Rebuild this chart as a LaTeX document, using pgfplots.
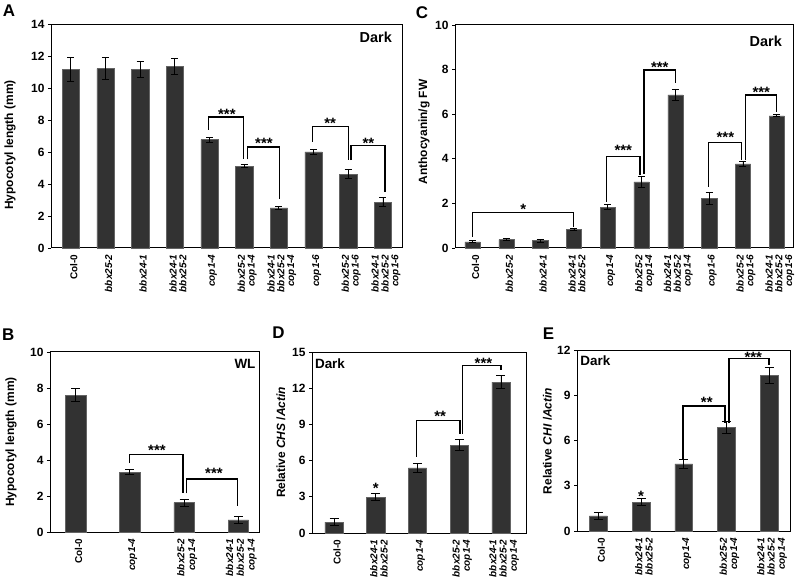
\documentclass[border=0pt]{standalone}
\usepackage{pgfplots}
\pgfplotsset{compat=1.18}
\usepackage{fontspec}
\setmainfont{Liberation Sans}
\definecolor{barc}{RGB}{50,50,50}
\definecolor{bare}{RGB}{100,100,100}
\pgfplotsset{
  panel/.style={
    scale only axis, anchor=south west, clip=false,
    axis line style={line width=1pt},
    ymin=0, tick align=outside, ytick pos=left, xtick pos=bottom,
    major tick length=3bp, tick style={black, line width=0.8pt},
    xtick style={draw=none},
    /pgf/number format/assume math mode=true,
    yticklabel style={font=\bfseries\fontsize{12}{12}\selectfont},
    xticklabel style={rotate=90, anchor=east, align=right, yshift=-3bp,
      font=\bfseries\fontsize{10}{9.8}\selectfont},
  },
  bars/.style={ybar, bar width=#1, fill=barc, draw=bare, line width=0.5pt,
    error bars/y dir=both, error bars/y explicit,
    error bars/error bar style={line width=0.8pt, black},
    error bars/error mark options={rotate=90, mark size=3.5bp, line width=0.8pt, black}},
  brk/.style={black, line width=1.3pt, sharp plot, mark=none},
}
\newcommand{\sig}[3]{\node[font=\bfseries\fontsize{15}{15}\selectfont, anchor=base, inner sep=0pt] at (axis cs:#1,#2) {#3};}
\begin{document}
\begin{tikzpicture}
\path[use as bounding box] (0,0) rectangle (796bp,583bp);
% ---------------- A
\begin{axis}[panel, at={(51bp,335bp)}, width=351bp, height=223.5bp,
  xmin=-0.57, xmax=9.55, ymax=14, ytick={0,2,...,14}, xtick={0,...,9},
  xticklabels={Col-0, \textit{bbx25-2}, \textit{bbx24-1}, {\textit{bbx24-1}\\\textit{bbx25-2}}, \textit{cop1-4}, {\textit{bbx25-2}\\\textit{cop1-4}}, {\textit{bbx24-1}\\\textit{bbx25-2}\\\textit{cop1-4}}, \textit{cop1-6}, {\textit{bbx25-2}\\\textit{cop1-6}}, {\textit{bbx24-1}\\\textit{bbx25-2}\\\textit{cop1-6}}}]
\addplot[bars=0.5] coordinates {(0,11.19)+-(0,0.73) (1,11.23)+-(0,0.69) (2,11.19)+-(0,0.52) (3,11.38)+-(0,0.52) (4,6.79)+-(0,0.15) (5,5.12)+-(0,0.1) (6,2.52)+-(0,0.1) (7,6.02)+-(0,0.15) (8,4.63)+-(0,0.29) (9,2.87)+-(0,0.29)};
\addplot[brk] coordinates {(3.98,7.4) (3.98,8.2) (4.99,8.2) (4.99,5.55)};
\addplot[brk] coordinates {(5.09,5.55) (5.09,6.33) (6.01,6.33) (6.01,3.1)};
\addplot[brk] coordinates {(6.96,6.65) (6.96,7.62) (8.0,7.62) (8.0,5.5)};
\addplot[brk] coordinates {(8.08,5.5) (8.08,6.4) (9.06,6.4) (9.06,3.52)};
\sig{4.5}{8.04}{***}
\sig{5.57}{6.21}{***}
\sig{7.48}{7.5}{**}
\sig{8.58}{6.25}{**}
\end{axis}
% ---------------- C
\begin{axis}[panel, at={(455bp,335bp)}, width=338bp, height=223bp,
  xmin=-0.52, xmax=9.48, ymax=10, ytick={0,2,...,10}, xtick={0,...,9},
  xticklabels={Col-0, \textit{bbx25-2}, \textit{bbx24-1}, {\textit{bbx24-1}\\\textit{bbx25-2}}, \textit{cop1-4}, {\textit{bbx25-2}\\\textit{cop1-4}}, {\textit{bbx24-1}\\\textit{bbx25-2}\\\textit{cop1-4}}, \textit{cop1-6}, {\textit{bbx25-2}\\\textit{cop1-6}}, {\textit{bbx24-1}\\\textit{bbx25-2}\\\textit{cop1-6}}}]
\addplot[bars=0.45] coordinates {(0,0.28)+-(0,0.04) (1,0.38)+-(0,0.05) (2,0.33)+-(0,0.06) (3,0.82)+-(0,0.04) (4,1.83)+-(0,0.11) (5,2.97)+-(0,0.24) (6,6.87)+-(0,0.26) (7,2.23)+-(0,0.26) (8,3.77)+-(0,0.1) (9,5.93)+-(0,0.04)};
\addplot[brk] coordinates {(0,0.5) (0,1.58) (2.98,1.58) (2.98,0.96)};
\addplot[brk] coordinates {(3.97,2.08) (3.97,4.09) (4.95,4.09) (4.95,3.27)};
\addplot[brk] coordinates {(5.07,3.32) (5.07,7.98) (6.01,7.98) (6.01,7.38)};
\addplot[brk] coordinates {(6.99,2.75) (6.99,4.74) (7.96,4.74) (7.96,3.95)};
\addplot[brk] coordinates {(8.07,3.95) (8.07,6.86) (9.0,6.86) (9.0,6.11)};
\sig{1.5}{1.51}{*}
\sig{4.46}{4.13}{***}
\sig{5.54}{7.86}{***}
\sig{7.48}{4.75}{***}
\sig{8.54}{6.77}{***}
\end{axis}
% ---------------- B
\begin{axis}[panel, at={(50bp,51bp)}, width=209bp, height=180bp,
  xmin=-0.47, xmax=3.38, ymax=10, ytick={0,2,...,10}, xtick={0,...,3},
  xticklabels={Col-0, \textit{cop1-4}, {\textit{bbx25-2}\\\textit{cop1-4}}, {\textit{bbx24-1}\\\textit{bbx25-2}\\\textit{cop1-4}}},
  xticklabel style={font=\bfseries\fontsize{10}{10.8}\selectfont}]
\addplot[bars=0.38, error bars/error mark options={rotate=90, mark size=4.5bp, line width=0.8pt, black}] coordinates {(0,7.6)+-(0,0.37) (1,3.32)+-(0,0.14) (2,1.63)+-(0,0.2) (3,0.67)+-(0,0.18)};
\addplot[brk] coordinates {(0.99,3.82) (0.99,4.32) (1.98,4.32) (1.98,2.15)};
\addplot[brk] coordinates {(2.05,2.15) (2.05,2.94) (2.99,2.94) (2.99,1.45)};
\sig{1.5}{4.26}{***}
\sig{2.55}{2.96}{***}
\end{axis}
% ---------------- D
\begin{axis}[panel, at={(312bp,50bp)}, width=214bp, height=181bp,
  xmin=-0.53, xmax=4.6, ymax=15, ytick={0,3,...,15}, xtick={0,...,4},
  xticklabels={Col-0, {\textit{bbx24-1}\\\textit{bbx25-2}}, \textit{cop1-4}, {\textit{bbx25-2}\\\textit{cop1-4}}, {\textit{bbx24-1}\\\textit{bbx25-2}\\\textit{cop1-4}}},
  xticklabel style={font=\bfseries\fontsize{10}{10.3}\selectfont}]
\addplot[bars=0.44, error bars/error mark options={rotate=90, mark size=4.5bp, line width=0.8pt, black}] coordinates {(0,0.91)+-(0,0.3) (1,2.98)+-(0,0.3) (2,5.39)+-(0,0.35) (3,7.27)+-(0,0.45) (4,12.51)+-(0,0.52)};
\addplot[brk] coordinates {(1.98,6.3) (1.98,9.34) (3.02,9.34) (3.02,8.23)};
\addplot[brk] coordinates {(3.08,8.23) (3.08,13.9) (4.0,13.9) (4.0,13.48)};
\sig{1}{3.31}{*}
\sig{2.54}{9.2}{**}
\sig{3.58}{13.67}{***}
\end{axis}
% ---------------- E
\begin{axis}[panel, at={(577bp,52bp)}, width=213bp, height=181bp,
  xmin=-0.5, xmax=4.49, ymax=12, ytick={0,3,...,12}, xtick={0,...,4},
  xticklabels={Col-0, {\textit{bbx24-1}\\\textit{bbx25-2}}, \textit{cop1-4}, {\textit{bbx25-2}\\\textit{cop1-4}}, {\textit{bbx24-1}\\\textit{bbx25-2}\\\textit{cop1-4}}},
  xticklabel style={font=\bfseries\fontsize{10}{10.3}\selectfont}]
\addplot[bars=0.42, error bars/error mark options={rotate=90, mark size=4.5bp, line width=0.8pt, black}] coordinates {(0,1.0)+-(0,0.25) (1,1.92)+-(0,0.22) (2,4.45)+-(0,0.32) (3,6.85)+-(0,0.39) (4,10.34)+-(0,0.53)};
\addplot[brk] coordinates {(1.98,4.71) (1.98,8.29) (2.97,8.29) (2.97,7.14)};
\addplot[brk] coordinates {(3.06,7.14) (3.06,11.45) (4.0,11.45) (4.0,11.0)};
\sig{1}{1.96}{*}
\sig{2.54}{8.16}{**}
\sig{3.63}{11.2}{***}
\end{axis}
% ---------------- labels
\begin{scope}[every node/.style={font=\bfseries\fontsize{12}{12}\selectfont, rotate=90, anchor=center}]
\node at (10bp,438bp) {Hypocotyl length (mm)};
\node at (424bp,451bp) {Anthocyanin/g FW};
\node at (11bp,141bp) {Hypocotyl length (mm)};
\node at (281bp,140.5bp) {Relative \textit{CHS} /\textit{Actin}};
\node at (547.5bp,142bp) {Relative \textit{CHI} /\textit{Actin}};
\end{scope}
\begin{scope}[every node/.style={font=\bfseries\fontsize{14.5}{14.5}\selectfont, anchor=base, inner sep=0pt}]
\node at (375.8bp,540.3bp) {Dark};
\node at (765.8bp,536.3bp) {Dark};
\end{scope}
\begin{scope}[every node/.style={font=\bfseries\fontsize{13.5}{13.5}\selectfont, anchor=base, inner sep=0pt}]
\node at (245bp,214.7bp) {WL};
\node at (330bp,214.7bp) {Dark};
\node at (595.3bp,217.3bp) {Dark};
\end{scope}
\begin{scope}[every node/.style={font=\bfseries\fontsize{17}{17}\selectfont, anchor=center, inner sep=0pt}]
\node at (9bp,572bp) {A};
\node at (422bp,570.5bp) {C};
\node at (8.3bp,248bp) {B};
\node at (278.5bp,250bp) {D};
\node at (548.5bp,249.5bp) {E};
\end{scope}
\end{tikzpicture}
\end{document}
